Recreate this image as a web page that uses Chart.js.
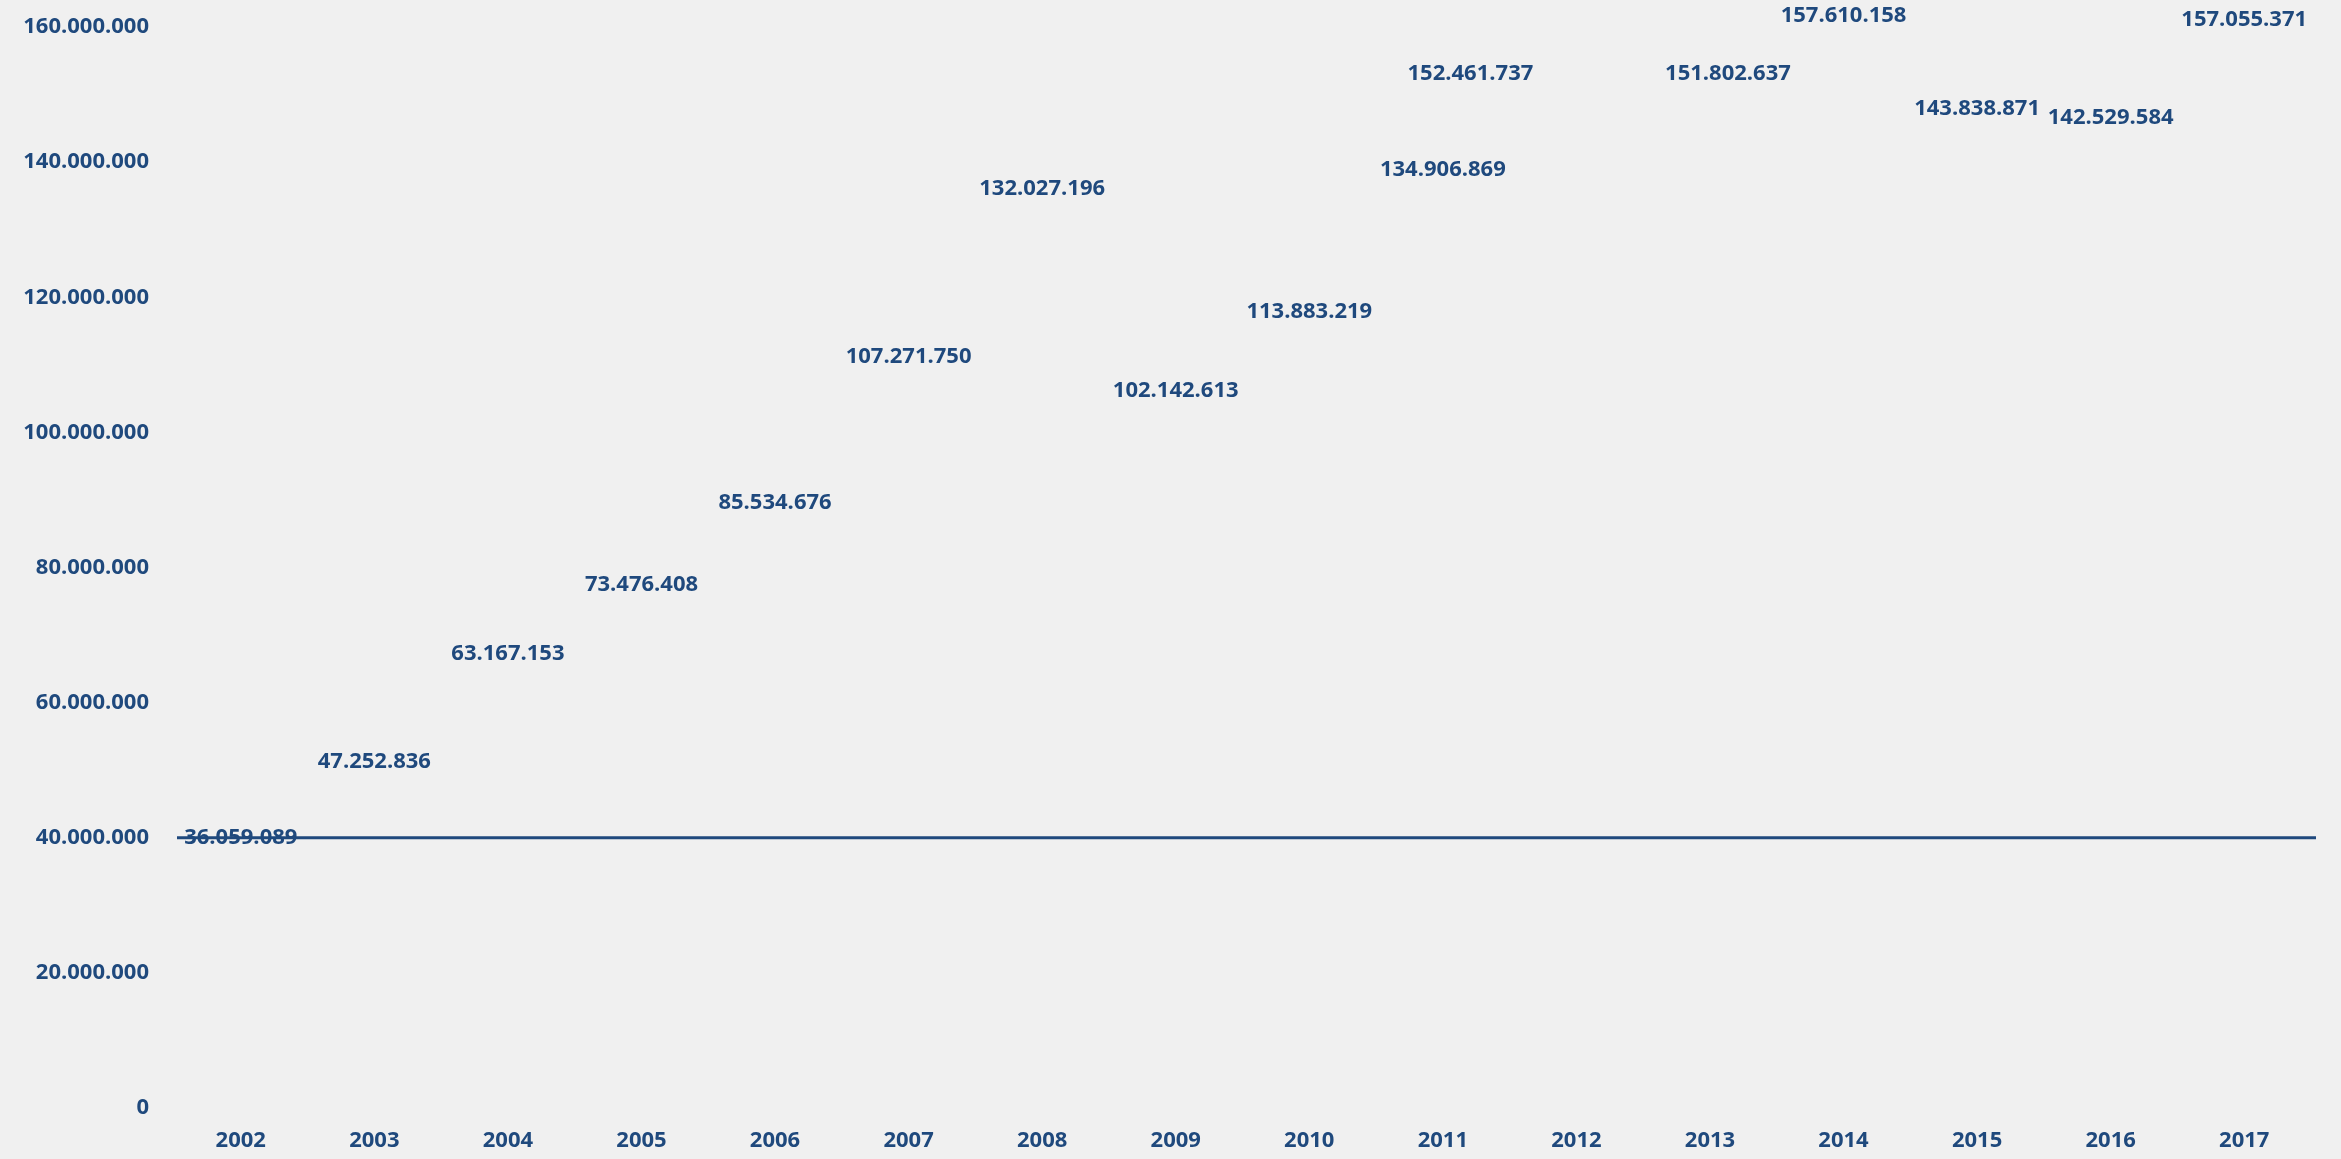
<!DOCTYPE html>
<html>
<head>
<meta charset="utf-8">
<script src="https://cdn.jsdelivr.net/npm/chart.js@4.4.1/dist/chart.umd.min.js"></script>
<style>
  html,body{margin:0;padding:0;background:#f0f0f0;}
  canvas{display:block;}
</style>
</head>
<body>
<canvas id="c" width="2341" height="1159"></canvas>
<script>
/* yearly totals, invisible bars with value labels + 40M reference line */
const years=['2002','2003','2004','2005','2006','2007','2008','2009','2010','2011','2012','2013','2014','2015','2016','2017'];
const totals=[36059089,47252836,63167153,73476408,85534676,107271750,132027196,102142613,113883219,134906869,152461737,151802637,157610158,143838871,142529584,157055371];
const refLine=40000000;
const yTicks=[0,20000000,40000000,60000000,80000000,100000000,120000000,140000000,160000000];

const ink='#1f497d';
const fnt='"Open Sans", "Liberation Sans", sans-serif';
// two labels were dragged by hand in the original (index -> [dx,dy])
const nudge={10:[-106,23],11:[18,18]};

function dots(v){return String(Math.round(v)).replace(/\B(?=(\d{3})+(?!\d))/g,'.');}

const labelPlugin={
  id:'labels',
  afterDatasetsDraw(chart){
    const ctx=chart.ctx;const meta=chart.getDatasetMeta(0);const ys=chart.scales.y;const a=chart.chartArea;
    ctx.save();
    ctx.fillStyle=ink;ctx.font='bold 22px '+fnt;ctx.textAlign='center';ctx.textBaseline='middle';
    meta.data.forEach(function(el,i){
      const n=nudge[i]||[0,0];
      ctx.fillText(dots(totals[i]),el.x+n[0],el.y-27+n[1]);
    });
    // reference line across the plot
    const yy=ys.getPixelForValue(refLine);
    ctx.strokeStyle=ink;ctx.lineWidth=3;
    ctx.beginPath();ctx.moveTo(a.left+3,yy);ctx.lineTo(a.right+5,yy);ctx.stroke();
    ctx.restore();
  }
};

new Chart(document.getElementById('c'),{
  type:'bar',
  data:{labels:years,datasets:[{data:totals,backgroundColor:'rgba(0,0,0,0)',borderWidth:0}]},
  options:{
    responsive:false,animation:false,devicePixelRatio:1,
    layout:{padding:{left:0,right:30,top:27,bottom:0}},
    plugins:{legend:{display:false},tooltip:{enabled:false}},
    scales:{
      x:{grid:{display:false,drawTicks:false},border:{display:false},
         afterFit(s){s.height=51;},
         ticks:{color:ink,font:{family:fnt,size:22,weight:'bold'},padding:20,autoSkip:false,maxRotation:0}},
      y:{min:0,max:160000000,grid:{display:false,drawTicks:false},border:{display:false},
         afterFit(s){s.width=174;s.paddingTop=0;s.paddingBottom=0;},
         afterBuildTicks(s){s.ticks=yTicks.map(function(v){return{value:v};});},
         ticks:{color:ink,font:{family:fnt,size:22,weight:'bold'},padding:25,callback:function(v){return dots(v);}}}
    }
  },
  plugins:[labelPlugin]
});
</script>
</body>
</html>
